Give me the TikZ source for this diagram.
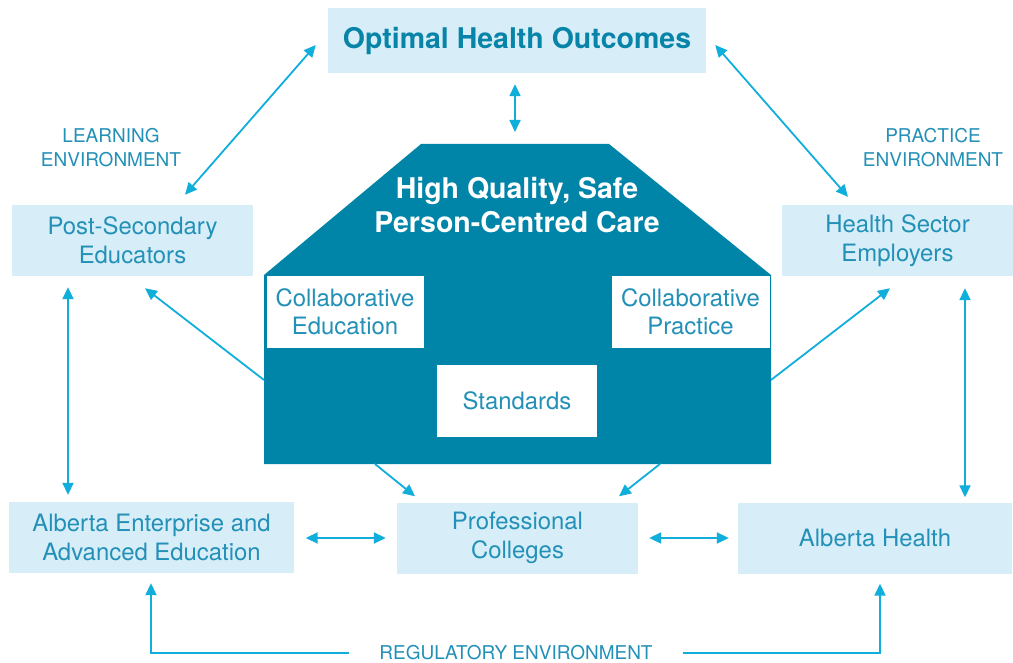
\documentclass[tikz,border=0pt]{standalone}
\usepackage{fontspec}
\setmainfont{TeX Gyre Heros}
\usetikzlibrary{arrows.meta,calc}
\definecolor{boxfill}{HTML}{D7EEF8}
\definecolor{boxtext}{HTML}{2290B7}
\definecolor{titletext}{HTML}{0784A8}
\definecolor{housefill}{HTML}{0085A9}
\definecolor{linkcol}{HTML}{10AEDB}
\begin{document}
\begin{tikzpicture}[x=1pt,y=-1pt,
  lbox/.style={rectangle,fill=boxfill,text=boxtext,align=center,inner sep=0pt,
    font=\fontsize{23.9}{28.5}\selectfont},
  wbox/.style={rectangle,fill=white,text=boxtext,align=center,inner sep=0pt,
    font=\fontsize{23.9}{28.5}\selectfont},
  envlabel/.style={text=boxtext,align=center,inner sep=0pt,
    font=\fontsize{19}{24}\selectfont},
  link/.style={draw=linkcol,line width=1.8pt,
    arrows={-Triangle[length=12pt,width=11pt]}},
  dlink/.style={draw=linkcol,line width=1.8pt,
    arrows={Triangle[length=12pt,width=11pt]-Triangle[length=12pt,width=11pt]}}]
\useasboundingbox[fill=white] (0,0) rectangle (1013,663);

% house outline
\coordinate (hA) at (264,464);
\coordinate (hB) at (264,275);
\coordinate (hC) at (421,144);
\coordinate (hD) at (609,144);
\coordinate (hE) at (771,275);
\coordinate (hF) at (771,464);
\fill[housefill] (hA) -- (hB) -- (hC) -- (hD) -- (hE) -- (hF) -- cycle;
\coordinate (roof) at (515,144);
\coordinate (wallL) at (264,380);
\coordinate (wallR) at (771,380);
\coordinate (baseL) at (375,464);
\coordinate (baseR) at (660,464);

\node[text=white,align=center,font=\fontsize{28.5}{34}\bfseries\selectfont] (care) at (517,205)
  {High Quality, Safe\\Person-Centred Care};
\node[wbox,minimum width=157pt,minimum height=72pt] (ce) at (345,312) {Collaborative\\Education};
\node[wbox,minimum width=158pt,minimum height=72pt] (cp) at (690.5,312) {Collaborative\\Practice};
\node[wbox,minimum width=160pt,minimum height=72pt] (std) at (517,401) {Standards};

% outer boxes
\node[lbox,minimum width=378pt,minimum height=65pt,text=titletext,
  font=\fontsize{28.5}{32}\bfseries\selectfont] (top) at (517,40.5) {Optimal Health Outcomes};
\node[lbox,minimum width=241pt,minimum height=71pt] (pse) at (132.5,240.5) {Post-Secondary\\Educators};
\node[lbox,minimum width=231pt,minimum height=71pt] (hse) at (897.5,240.5) {Health Sector\\Employers};
\node[lbox,minimum width=285pt,minimum height=71pt] (ae) at (151.5,537.5) {Alberta Enterprise and\\Advanced Education};
\node[lbox,minimum width=241pt,minimum height=71pt] (pc) at (517.5,538) {Professional\\Colleges};
\node[lbox,minimum width=274pt,minimum height=71pt] (ah) at (875,538) {Alberta Health};

% environment labels
\node[envlabel] (learn) at (111,148) {LEARNING\\ENVIRONMENT};
\node[envlabel] (pract) at (933,148) {PRACTICE\\ENVIRONMENT};
\node[envlabel,inner xsep=30pt] (reg) at (516,653) {REGULATORY ENVIRONMENT};

% connectors
\draw[dlink] ($(top.south)+(-2,11)$) -- ($(roof)+(0,-12)$);
\draw[dlink] ($(top.west)+(-12,4.5)$) -- ($(pse.north)+(52.5,-10)$);
\draw[dlink] ($(top.east)+(9,4.5)$) -- ($(hse.north)+(-49.5,-8)$);
\draw[link] (wallL) -- ($(pse.south)+(12.5,12)$);
\draw[link] (wallR) -- ($(hse.south)+(-7.5,12)$);
\draw[link] (baseL) -- ($(pc.north)+(-102.5,-6)$);
\draw[link] (baseR) -- ($(pc.north)+(101.5,-6)$);
\draw[dlink] ($(pse.south)+(-64.5,11)$) -- ($(ae.north)+(-83.5,-7)$);
\draw[dlink] ($(hse.south)+(67.5,12)$) -- ($(ah.north)+(90,-5)$);
\draw[dlink] ($(ae.east)+(11.5,0.5)$) -- ($(pc.west)+(-11,0)$);
\draw[dlink] ($(pc.east)+(11,0)$) -- ($(ah.west)+(-9,0)$);
\draw[link] (reg.west) -| ($(ae.south)+(-0.5,10)$);
\draw[link] (reg.east) -| ($(ah.south)+(5,10)$);
\end{tikzpicture}
\end{document}
